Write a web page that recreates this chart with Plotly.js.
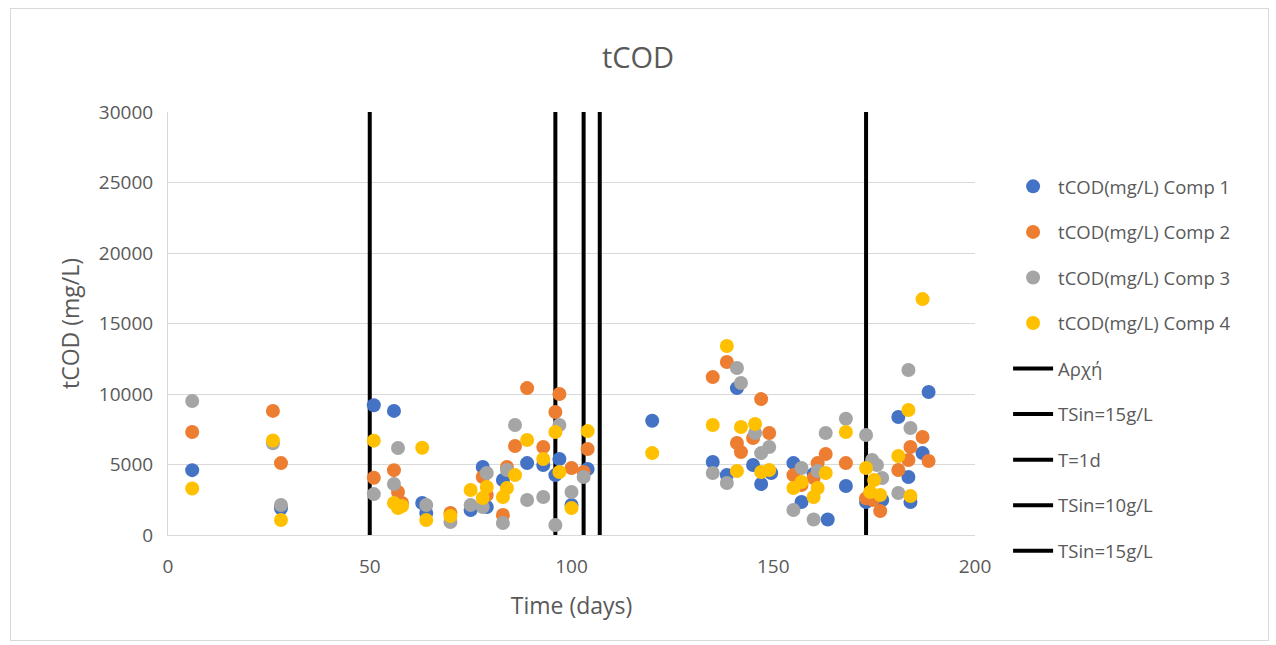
<!DOCTYPE html>
<html>
<head>
<meta charset="utf-8">
<script src="https://cdn.plot.ly/plotly-3.0.1.min.js"></script>
<style>
html,body{margin:0;padding:0;background:#fff;}
#chart{width:1276px;height:645px;}
#frame{position:absolute;left:10px;top:8px;width:1257px;height:631px;border:1px solid #d9d9d9;pointer-events:none;}
</style>
</head>
<body>
<div id="chart"></div>
<div id="frame"></div>
<script>
// Comp 1 (blue)
const comp1Days = [6,28,51,56,63,64,75,78,79,83,89,93,96,97,100,104,120,135,138.5,141,145,147,149.5,155,157,160,163.5,168,173,177,181,183.5,184,187,188.5];
const comp1Vals = [4600,1900,9200,8800,2270,1560,1770,4820,1990,3900,5100,4960,4250,5390,2130,4680,8100,5180,4250,10420,4960,3620,4400,5100,2340,4320,1100,3470,2340,2480,8370,4110,2340,5810,10140];
// Comp 2 (orange)
const comp2Days = [6,26,28,51,56,57,58,70,78,79,83,84,86,89,93,96,97,100,103,104,135,138.5,141,142,145,147,149,155,157,160,161,163,168,173,174.7,176.5,181,183.5,184,187,188.5];
const comp2Vals = [7300,8800,5100,4060,4600,3050,2270,1560,4110,2840,1420,4820,6310,10420,6240,8720,10000,4750,4470,6100,11200,12270,6520,5880,6880,9640,7230,4250,3550,4040,5100,5740,5100,2600,2480,1700,4610,5320,6240,6950,5250];
// Comp 3 (gray)
const comp3Days = [6,26,28,51,56,57,64,70,75,78,79,83,84,86,89,93,96,97,100,103,135,138.5,141,142,145.5,147,149,155,157,160,161,163,168,173,174.5,175.7,177,181,183.5,184];
const comp3Vals = [9500,6500,2130,2900,3620,6170,2130,920,2130,1990,4400,850,4610,7800,2480,2700,710,7800,3050,4110,4400,3690,11840,10780,7230,5810,6240,1770,4750,1100,4540,7230,8250,7090,5320,4960,4040,2980,11700,7590];
// Comp 4 (yellow)
const comp4Days = [6,26,28,51,56,57,58,63,64,70,75,78,79,83,84,86,89,93,96,97,100,104,120,135,138.5,141,142,145.5,147,149,155,157,160,161,163,168,173,174,175,176.5,181,183.5,184,187];
const comp4Vals = [3300,6700,1060,6690,2270,1910,2060,6190,1060,1350,3190,2620,3400,2700,3330,4250,6740,5390,7300,4470,1910,7370,5810,7800,13400,4540,7660,7870,4470,4610,3330,3760,2700,3330,4400,7300,4750,3050,3900,2840,5600,8860,2770,16730];

const seriesNames = ["tCOD(mg/L) Comp 1","tCOD(mg/L) Comp 2","tCOD(mg/L) Comp 3","tCOD(mg/L) Comp 4"];
const seriesColors = ["#4472C4","#ED7D31","#A5A5A5","#FFC000"];

// Vertical event lines
const eventNames = ["Αρχή","TSin=15g/L","T=1d","TSin=10g/L","TSin=15g/L"];
const eventDays = [50,96,103,107,173];
const eventRange = [0,30000];

const yTicks = [0,5000,10000,15000,20000,25000,30000];
const xTicks = [0,50,100,150,200];

const traces = [];
eventNames.forEach((n,i)=>{
  traces.push({
    type:"scatter", mode:"lines", name:n,
    x:[eventDays[i],eventDays[i]], y:eventRange,
    line:{color:"#000000", width:4},
    legendrank:10+i, legendgroup:"e"+i, hoverinfo:"skip"
  });
});
const xs=[comp1Days,comp2Days,comp3Days,comp4Days];
const ys=[comp1Vals,comp2Vals,comp3Vals,comp4Vals];
seriesNames.forEach((n,i)=>{
  traces.push({
    type:"scatter", mode:"markers", name:n,
    x:xs[i], y:ys[i],
    marker:{color:seriesColors[i], size:14},
    legendrank:1+i, legendgroup:"s"+i
  });
});

const txt="#595959";
const layout={
  width:1276, height:645,
  margin:{l:168,r:301,t:112,b:110},
  paper_bgcolor:"#ffffff", plot_bgcolor:"#ffffff",
  font:{family:"Open Sans, DejaVu Sans, sans-serif", color:txt, size:16},
  title:{text:"tCOD", x:0.5, xanchor:"center", y:0.91, yanchor:"middle", font:{size:29,color:txt}},
  xaxis:{range:[0,200], tickvals:xTicks, ticktext:xTicks.map(String), showgrid:false, zeroline:false,
         showline:true, linecolor:"#d9d9d9", linewidth:1, ticks:"", ticklabelstandoff:14,
         tickfont:{size:19,color:txt},
         title:{text:"Time (days)", font:{size:23,color:txt}, standoff:20}},
  yaxis:{range:[0,30000], tickvals:yTicks, ticktext:yTicks.map(String), showgrid:true, gridcolor:"#d9d9d9",
         zeroline:false, showline:true, linecolor:"#d9d9d9", ticks:"", ticklabelstandoff:10,
         tickfont:{size:19,color:txt},
         title:{text:"tCOD (mg/L)", font:{size:23,color:txt}, standoff:12}},
  showlegend:true,
  legend:{x:1.041, xanchor:"left", y:0.868, yanchor:"top", font:{size:18.5,color:txt},
          tracegroupgap:18.5, itemwidth:40, bgcolor:"rgba(0,0,0,0)"}
};
Plotly.newPlot("chart", traces, layout, {displayModeBar:false, staticPlot:true});
</script>
</body>
</html>
